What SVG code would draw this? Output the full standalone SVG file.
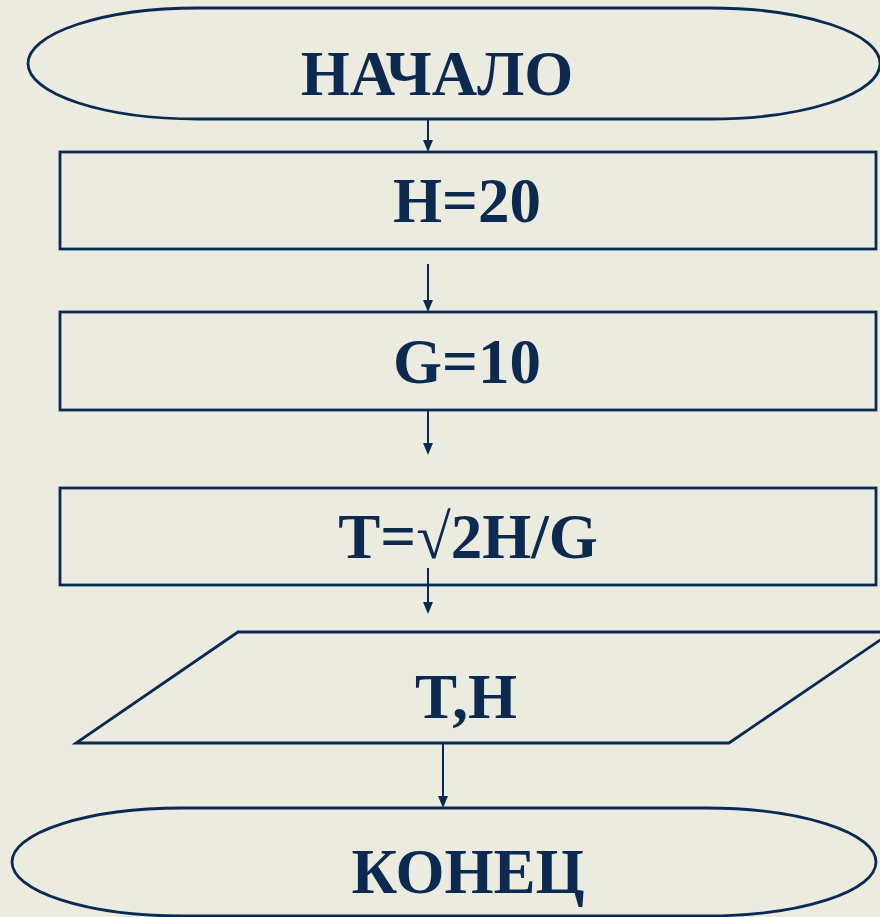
<svg xmlns="http://www.w3.org/2000/svg" width="880" height="917" viewBox="0 0 880 917">
<style>
.shape{fill:none;stroke:#0a2a52;stroke-width:2.8}
.t{font-family:"Liberation Serif","Times New Roman",serif;font-weight:bold;font-size:63px;fill:#0c2a50;text-anchor:middle}
.c{stroke:#0a2a52;stroke-width:2;fill:none}
.h{fill:#0a2a52}
</style>
<rect width="880" height="917" fill="#ecebe0"/>
<g id="start">
<path class="shape" d="M198,8 H710 A170,55.5 0 0 1 710,119 H198 A170,55.5 0 0 1 198,8 Z"/>
<text class="t" x="437" y="95">НАЧАЛО</text>
</g>
<g id="h20">
<rect class="shape" x="60" y="152" width="816" height="97"/>
<text class="t" x="467" y="222">H=20</text>
</g>
<g id="g10">
<rect class="shape" x="60" y="312" width="816" height="98"/>
<text class="t" x="467" y="383">G=10</text>
</g>
<g id="t">
<rect class="shape" x="60" y="488" width="816" height="97"/>
<text class="t" x="468" y="558">T=√2H/G</text>
</g>
<g id="out">
<polygon class="shape" points="238,632 892,632 729,743 76,743"/>
<text class="t" x="466" y="718">T,H</text>
</g>
<g id="end">
<path class="shape" d="M182,808 H706 A170,54 0 0 1 706,916 H182 A170,54 0 0 1 182,808 Z"/>
<text class="t" x="468" y="893">КОНЕЦ</text>
</g>
<g id="connectors">
<path d="M428,119 V140" class="c"/>
<path d="M423,140 L433,140 L428,152 Z" class="h"/>
<path d="M428,264 V300" class="c"/>
<path d="M423,300 L433,300 L428,312 Z" class="h"/>
<path d="M428,410 V443" class="c"/>
<path d="M423,443 L433,443 L428,455 Z" class="h"/>
<path d="M428,568 V602" class="c"/>
<path d="M423,602 L433,602 L428,614 Z" class="h"/>
<path d="M443,743 V796" class="c"/>
<path d="M438,796 L448,796 L443,808 Z" class="h"/>
</g>
</svg>
